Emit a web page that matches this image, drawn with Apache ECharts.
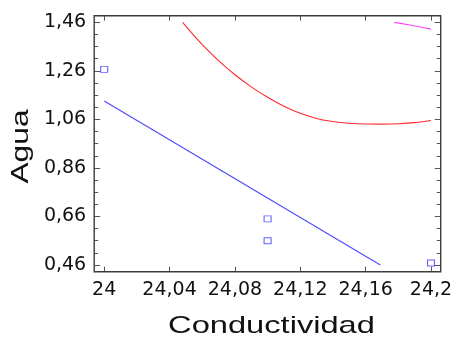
<!DOCTYPE html>
<html>
<head>
<meta charset="utf-8">
<script src="https://cdn.jsdelivr.net/npm/echarts@6/dist/echarts.min.js"></script>
<style>
  html, body { margin: 0; padding: 0; background: #fff; }
  #chart { width: 456px; height: 342px; }
</style>
</head>
<body>
<div id="chart"></div>
<script>
// Observations: Agua vs Conductividad
const conductividad = [24, 24.1, 24.1, 24.2];
const agua = [1.266, 0.65, 0.56, 0.468];

// Fitted straight line (end points)
const fitX = [24, 24.169];
const fitY = [1.136, 0.46];

// Upper confidence limit for the mean
const confX = [24.048, 24.055, 24.060, 24.070, 24.080, 24.090, 24.100, 24.110, 24.120,
               24.130, 24.140, 24.150, 24.160, 24.170, 24.180, 24.190, 24.200];
const confY = [1.460, 1.405, 1.368, 1.302, 1.244, 1.194, 1.151, 1.114, 1.085,
               1.064, 1.051, 1.044, 1.041, 1.0405, 1.042, 1.0465, 1.0555];

// Upper prediction limit
const predX = [24.1775, 24.187, 24.200];
const predY = [1.460, 1.449, 1.432];

// Tick settings
const xMin = 24, xMax = 24.2, xStep = 0.04;
const yMin = 0.46, yMax = 1.46, yStep = 0.2;

const pairs = (xs, ys) => xs.map((x, i) => [x, ys[i]]);
const comma = v => String(+v.toFixed(2)).replace('.', ',');
const comma2 = v => v.toFixed(2).replace('.', ',');

// Plot area and the surrounding frame
const G = { left: 104.2, top: 22.3, right: 25, bottom: 77 };
const PAD = { left: 10, top: 6.6, right: 9.7, bottom: 6.7 };
const W = 456, H = 342;
const frame = {
  x: G.left - PAD.left,
  y: G.top - PAD.top,
  w: (W - G.right + PAD.right) - (G.left - PAD.left),
  h: (H - G.bottom + PAD.bottom) - (G.top - PAD.top)
};

const tickColor = '#555';
const labelFont = { fontFamily: 'DejaVu Sans', fontSize: 19, color: '#111' };

function xAxisDef(pos, offset, showLabel) {
  return {
    type: 'value', position: pos, offset: offset,
    min: xMin, max: xMax, interval: xStep,
    axisLine: { show: false },
    axisTick: { show: true, inside: true, length: 5, lineStyle: { color: tickColor, width: 1 } },
    axisLabel: Object.assign({ show: showLabel, margin: 9, formatter: comma }, labelFont),
    splitLine: { show: false }
  };
}
function yAxisDef(pos, offset, showLabel) {
  return {
    type: 'value', position: pos, offset: offset,
    min: yMin, max: yMax, interval: yStep,
    axisLine: { show: false },
    axisTick: { show: true, inside: true, length: 6, lineStyle: { color: tickColor, width: 1 } },
    minorTick: { show: true, splitNumber: 4, length: 4, lineStyle: { color: tickColor, width: 1 } },
    axisLabel: Object.assign({ show: showLabel, margin: 8, formatter: comma2 }, labelFont),
    splitLine: { show: false },
    minorSplitLine: { show: false }
  };
}

const chart = echarts.init(document.getElementById('chart'), null, { renderer: 'canvas' });
chart.setOption({
  animation: false,
  backgroundColor: '#fff',
  grid: { left: G.left, top: G.top, right: G.right, bottom: G.bottom, containLabel: false },
  xAxis: [xAxisDef('bottom', PAD.bottom, true), xAxisDef('top', PAD.top, false)],
  yAxis: [yAxisDef('left', PAD.left, true), yAxisDef('right', PAD.right, false)],
  series: [
    {
      name: 'Ajuste', type: 'line', data: pairs(fitX, fitY),
      showSymbol: false, lineStyle: { color: '#4a4aff', width: 1.1 }
    },
    {
      name: 'Límite de confianza', type: 'line', data: pairs(confX, confY),
      smooth: 0.3, showSymbol: false, lineStyle: { color: '#ff2a2a', width: 1.1 }
    },
    {
      name: 'Límite de predicción', type: 'line', data: pairs(predX, predY),
      smooth: true, showSymbol: false, lineStyle: { color: '#ff44ff', width: 1.2 }
    },
    {
      name: 'Observaciones', type: 'scatter', data: pairs(conductividad, agua),
      symbol: 'rect', symbolSize: [7, 6],
      itemStyle: { color: 'rgba(255,255,255,0)', borderColor: '#3a3aff', borderWidth: 1 }
    }
  ],
  graphic: [
    {
      type: 'rect', silent: true, z: 10,
      shape: { x: frame.x, y: frame.y, width: frame.w, height: frame.h },
      style: { fill: 'none', stroke: '#3c3c3c', lineWidth: 1.4 }
    },
    {
      type: 'text', x: 271.5, y: 326, scaleX: 1.36, silent: true,
      style: { text: 'Conductividad', fontFamily: 'Liberation Sans', fontSize: 24,
               fill: '#111', align: 'center', verticalAlign: 'middle' }
    },
    {
      type: 'text', x: 22, y: 146.5, rotation: Math.PI / 2, scaleX: 1.38, silent: true,
      style: { text: 'Agua', fontFamily: 'Liberation Sans', fontSize: 23,
               fill: '#111', align: 'center', verticalAlign: 'middle' }
    }
  ]
});
</script>
</body>
</html>
